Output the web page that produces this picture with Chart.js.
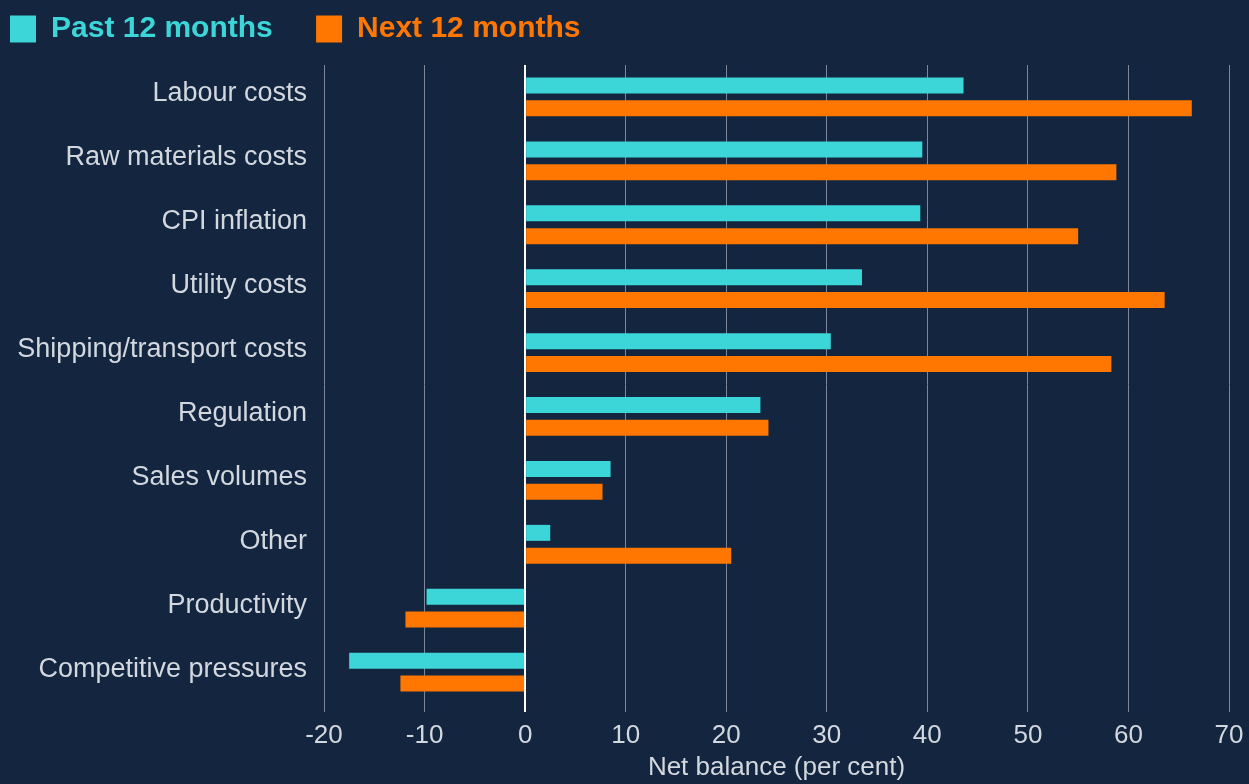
<!DOCTYPE html>
<html>
<head>
<meta charset="utf-8">
<script src="https://cdn.jsdelivr.net/npm/chart.js@4"></script>
<style>
  html, body { margin: 0; padding: 0; background: #13253f; }
  #wrap { width: 1249px; height: 784px; }
</style>
</head>
<body>
<div id="wrap"><canvas id="myChart"></canvas></div>
<script>
const categories = ['Labour costs', 'Raw materials costs', 'CPI inflation', 'Utility costs',
    'Shipping/transport costs', 'Regulation', 'Sales volumes', 'Other', 'Productivity',
    'Competitive pressures'];
const past12 = [43.6, 39.5, 39.3, 33.5, 30.4, 23.4, 8.5, 2.5, -9.8, -17.5];
const next12 = [66.3, 58.8, 55.0, 63.6, 58.3, 24.2, 7.7, 20.5, -11.9, -12.4];
const xTicks = [-20, -10, 0, 10, 20, 30, 40, 50, 60, 70];

const cyan = '#3dd6d8';
const orange = '#ff7700';
const textColor = '#d3d8df';
const font = "'Liberation Sans', Arial, sans-serif";

// fixed legend band height so the plot starts where the original does
const legendHeight = {
    id: 'legendHeight',
    beforeInit(chart) {
        const fit = chart.legend.fit;
        chart.legend.fit = function () {
            fit.call(this);
            this.height = 61;
        };
    }
};

const ctx = document.getElementById('myChart').getContext('2d');
window.myChart = new Chart(ctx, {
    type: 'bar',
    data: {
        labels: categories,
        datasets: [{
            label: 'Past 12 months',
            data: past12,
            backgroundColor: cyan,
            categoryPercentage: 0.714,
            barPercentage: 0.70
        }, {
            label: 'Next 12 months',
            data: next12,
            backgroundColor: orange,
            categoryPercentage: 0.714,
            barPercentage: 0.70
        }]
    },
    options: {
        indexAxis: 'y',
        responsive: true,
        maintainAspectRatio: false,
        animation: false,
        layout: { padding: { left: 0, right: 20, top: 4, bottom: 0 } },
        plugins: {
            legend: {
                align: 'start',
                labels: {
                    boxWidth: 26,
                    boxHeight: 27,
                    padding: 10,
                    font: { family: font, size: 30, weight: 'bold' },
                    generateLabels: chart => chart.data.datasets.map((ds, i) => ({
                        text: i === 0 ? ds.label + '    ' : ds.label,
                        fillStyle: ds.backgroundColor,
                        strokeStyle: ds.backgroundColor,
                        lineWidth: 0,
                        fontColor: ds.backgroundColor,
                        hidden: false,
                        datasetIndex: i
                    }))
                }
            },
            tooltip: { enabled: false }
        },
        scales: {
            x: {
                min: -20,
                max: 70,
                afterBuildTicks: scale => { scale.ticks = xTicks.map(v => ({ value: v })); },
                afterFit: scale => {
                    scale.height = 80;
                    scale.paddingLeft = 0;
                    scale.paddingRight = 0;
                },
                ticks: {
                    color: textColor,
                    padding: 8,
                    font: { family: font, size: 26 }
                },
                grid: {
                    color: c => c.tick && c.tick.value === 0 ? '#ffffff' : '#7d8799',
                    lineWidth: c => c.tick && c.tick.value === 0 ? 2 : 1,
                    tickLength: 8
                },
                border: { display: false },
                title: {
                    display: true,
                    text: 'Net balance (per cent)',
                    color: textColor,
                    padding: { top: 0, bottom: 1 },
                    font: { family: font, size: 26 }
                }
            },
            y: {
                afterFit: scale => { scale.width = 324; },
                ticks: {
                    color: textColor,
                    padding: 9,
                    labelOffset: -3,
                    font: { family: font, size: 27 }
                },
                grid: { display: false },
                border: { display: false }
            }
        }
    },
    plugins: [legendHeight]
});
</script>
</body>
</html>
